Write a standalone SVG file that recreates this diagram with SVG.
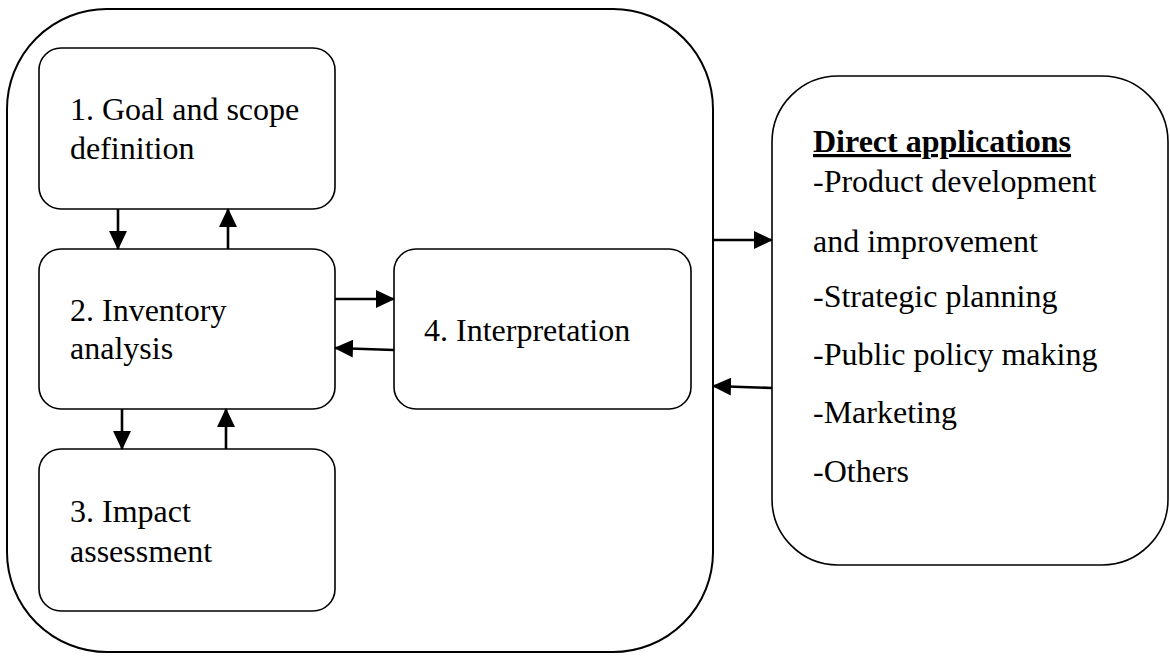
<svg xmlns="http://www.w3.org/2000/svg" width="1170" height="660" viewBox="0 0 1170 660">
<style>
.box{fill:#fff;stroke:#000;stroke-width:1.6}
.outer{fill:#fff;stroke:#000;stroke-width:2}
.t{font-family:"Liberation Serif","Times New Roman",serif;font-size:32px;fill:#000}
.b{font-weight:bold}
.c{stroke:#000;stroke-width:2.6;fill:none;marker-end:url(#ah)}
</style>
<defs>
<marker id="ah" markerUnits="userSpaceOnUse" markerWidth="19" markerHeight="18" refX="18" refY="9" orient="auto">
<path d="M0,0 L19,9 L0,18 z" fill="#000"/>
</marker>
</defs>
<g id="lca-frame"><rect class="outer" x="7" y="9" width="706" height="643" rx="100" ry="100"/></g>
<g id="goal"><rect class="box" x="39" y="48" width="296" height="161" rx="22" ry="22"/>
<text class="t" x="70" y="120">1. Goal and scope</text><text class="t" x="70" y="159">definition</text></g>
<g id="inventory"><rect class="box" x="39" y="249" width="296" height="160" rx="22" ry="22"/>
<text class="t" x="70" y="321">2. Inventory</text><text class="t" x="70" y="359">analysis</text></g>
<g id="impact"><rect class="box" x="39" y="449" width="296" height="162" rx="22" ry="22"/>
<text class="t" x="70" y="522">3. Impact</text><text class="t" x="70" y="562">assessment</text></g>
<g id="interpretation"><rect class="box" x="394" y="249" width="297" height="160" rx="22" ry="22"/>
<text class="t" x="424" y="341">4. Interpretation</text></g>
<g id="applications"><rect class="box" x="772" y="76" width="396" height="489" rx="66" ry="66"/>
<text class="t b" x="813" y="152" text-decoration="underline">Direct applications</text>
<text class="t" x="813" y="192">-Product development</text>
<text class="t" x="813" y="252">and improvement</text>
<text class="t" x="813" y="307">-Strategic planning</text>
<text class="t" x="813" y="365">-Public policy making</text>
<text class="t" x="813" y="423">-Marketing</text>
<text class="t" x="813" y="482">-Others</text></g>
<g id="connectors">
<path class="c" d="M118,209 L118,249"/>
<path class="c" d="M228,249 L228,209"/>
<path class="c" d="M122,409 L122,449"/>
<path class="c" d="M226,449 L226,409"/>
<path class="c" d="M335,299 L394,299"/>
<path class="c" d="M394,350 L335,348"/>
<path class="c" d="M713,240 L772,240"/>
<path class="c" d="M772,388 L713,386"/>
</g>
</svg>
